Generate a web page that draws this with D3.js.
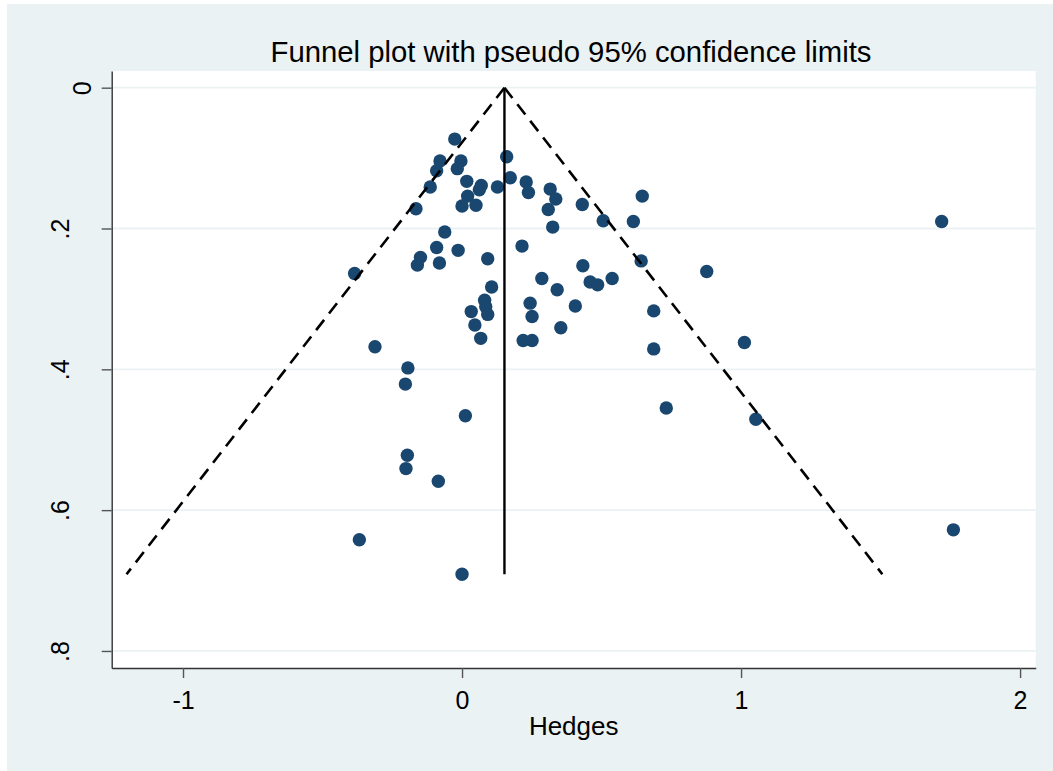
<!DOCTYPE html>
<html>
<head>
<meta charset="utf-8">
<script src="https://cdn.jsdelivr.net/npm/d3@7"></script>
<style>
  body { margin: 0; background: #fff; }
  svg { display: block; font-family: "Liberation Sans", Arial, Helvetica, sans-serif; }
</style>
</head>
<body>
<svg id="chart" width="1053" height="771"></svg>
<script>
// study effect sizes (Hedges g) and their standard errors
var hedges = [
  -0.026, -0.079, -0.091, -0.004, -0.017, -0.114, 0.017, 0.069, 0.062, 0.127,
   0.020,  0.000,  0.050, -0.165,  0.160,  0.173, 0.230, 0.238, -0.062, -0.091,
  -0.149, -0.160, -0.081, -0.014,  0.092,  0.215, -0.385, 0.316, 0.336, 0.309,
   0.431,  0.646,  0.506,  0.614,  0.325,  0.433, 0.642, 0.877, 0.286, 0.341,
   0.459,  0.486,  0.538,  0.244,  0.251,  0.406, 0.354, 0.687, 0.687, 0.219,
   0.251,  0.732,  1.012,  1.053,  1.719,  0.106, 0.081, 0.085, 0.033, 0.092,
   0.046,  0.067, -0.312, -0.194, -0.203,  0.012, -0.196, -0.201, -0.085, -0.368,
   0.000,  1.761
];
var seHedges = [
  0.073, 0.104, 0.118, 0.104, 0.115, 0.141, 0.133, 0.139, 0.145, 0.141,
  0.154, 0.168, 0.167, 0.172, 0.098, 0.128, 0.134, 0.149, 0.205, 0.227,
  0.241, 0.252, 0.249, 0.231, 0.243, 0.225, 0.264, 0.144, 0.158, 0.173,
  0.166, 0.154, 0.189, 0.190, 0.198, 0.253, 0.246, 0.261, 0.271, 0.287,
  0.276, 0.280, 0.271, 0.306, 0.325, 0.310, 0.341, 0.317, 0.371, 0.359,
  0.359, 0.455, 0.362, 0.471, 0.190, 0.283, 0.302, 0.311, 0.318, 0.322,
  0.337, 0.356, 0.368, 0.398, 0.421, 0.466, 0.522, 0.541, 0.559, 0.642,
  0.691, 0.628
];
var pooled = 0.152;
var xTicks = [-1, 0, 1, 2];
var yTicks = [0, 0.2, 0.4, 0.6, 0.8];
var titleText = "Funnel plot with pseudo 95% confidence limits";
var xTitle = "Hedges";

var svg = d3.select("#chart");
var plot = { left: 111.7, right: 1035.7, top: 71, bottom: 668 };

// graph region + plot region
svg.append("rect").attr("x", 7).attr("y", 4).attr("width", 1046).attr("height", 767)
    .attr("fill", "#eaf2f3");
svg.append("rect").attr("x", plot.left).attr("y", plot.top)
    .attr("width", plot.right - plot.left).attr("height", plot.bottom - plot.top)
    .attr("fill", "#fff");

var x = d3.scaleLinear().domain([-1.2556, 2.056]).range([plot.left, plot.right]);
var y = d3.scaleLinear().domain([-0.0237, 0.8242]).range([plot.top, plot.bottom]);

// grid
svg.append("g").selectAll("line").data(yTicks).join("line")
    .attr("x1", plot.left).attr("x2", plot.right)
    .attr("y1", function(d) { return y(d); }).attr("y2", function(d) { return y(d); })
    .attr("stroke", "#eaf2f3").attr("stroke-width", 1.8);

// axes
var xAxis = svg.append("g").attr("transform", "translate(0," + plot.bottom + ")")
    .call(d3.axisBottom(x).tickValues(xTicks).tickSize(10).tickSizeOuter(0)
        .tickFormat(function(d) { return String(d); }));
xAxis.selectAll("text").attr("dy", null).attr("y", 40.7)
    .attr("font-size", 25).attr("fill", "#000");

var yAxis = svg.append("g").attr("transform", "translate(" + plot.left + ",0)")
    .call(d3.axisLeft(y).tickValues(yTicks).tickSize(10).tickSizeOuter(0)
        .tickFormat(function(d) { return d === 0 ? "0" : String(d).replace("0.", "."); }));
yAxis.selectAll("text")
    .attr("dy", null).attr("x", 0)
    .attr("y", function(d) { return d === 0 ? -20.7 : -42.7; })
    .attr("transform", "rotate(-90)")
    .attr("text-anchor", "middle")
    .attr("font-size", 25).attr("fill", "#000");

[xAxis, yAxis].forEach(function(a) {
    a.attr("font-family", null);
    a.select(".domain").attr("stroke", "#333").attr("stroke-width", 1.4);
    a.selectAll(".tick line").attr("stroke", "#555").attr("stroke-width", 1.4);
});

// points
svg.append("g").selectAll("circle").data(hedges).join("circle")
    .attr("cx", function(d) { return x(d); })
    .attr("cy", function(d, i) { return y(seHedges[i]); })
    .attr("r", 6.7)
    .attr("fill", "#1a476f");

// pseudo 95% limits and pooled estimate
var maxSe = d3.max(seHedges);
var funnel = svg.append("g").attr("fill", "none").attr("stroke", "#000");
funnel.append("line")
    .attr("x1", x(pooled)).attr("y1", y(0))
    .attr("x2", x(pooled - 1.96 * maxSe)).attr("y2", y(maxSe))
    .attr("stroke-width", 2.6).attr("stroke-dasharray", "13,8");
funnel.append("line")
    .attr("x1", x(pooled)).attr("y1", y(0))
    .attr("x2", x(pooled + 1.96 * maxSe)).attr("y2", y(maxSe))
    .attr("stroke-width", 2.6).attr("stroke-dasharray", "13,8");
funnel.append("line")
    .attr("x1", x(pooled)).attr("y1", y(0))
    .attr("x2", x(pooled)).attr("y2", y(maxSe))
    .attr("stroke-width", 2.4);

// titles
svg.append("text").attr("x", 571).attr("y", 62).attr("text-anchor", "middle")
    .attr("font-size", 29.3).attr("fill", "#000").text(titleText);
svg.append("text").attr("x", (plot.left + plot.right) / 2).attr("y", 735)
    .attr("text-anchor", "middle").attr("font-size", 26).attr("fill", "#000").text(xTitle);
</script>
</body>
</html>
